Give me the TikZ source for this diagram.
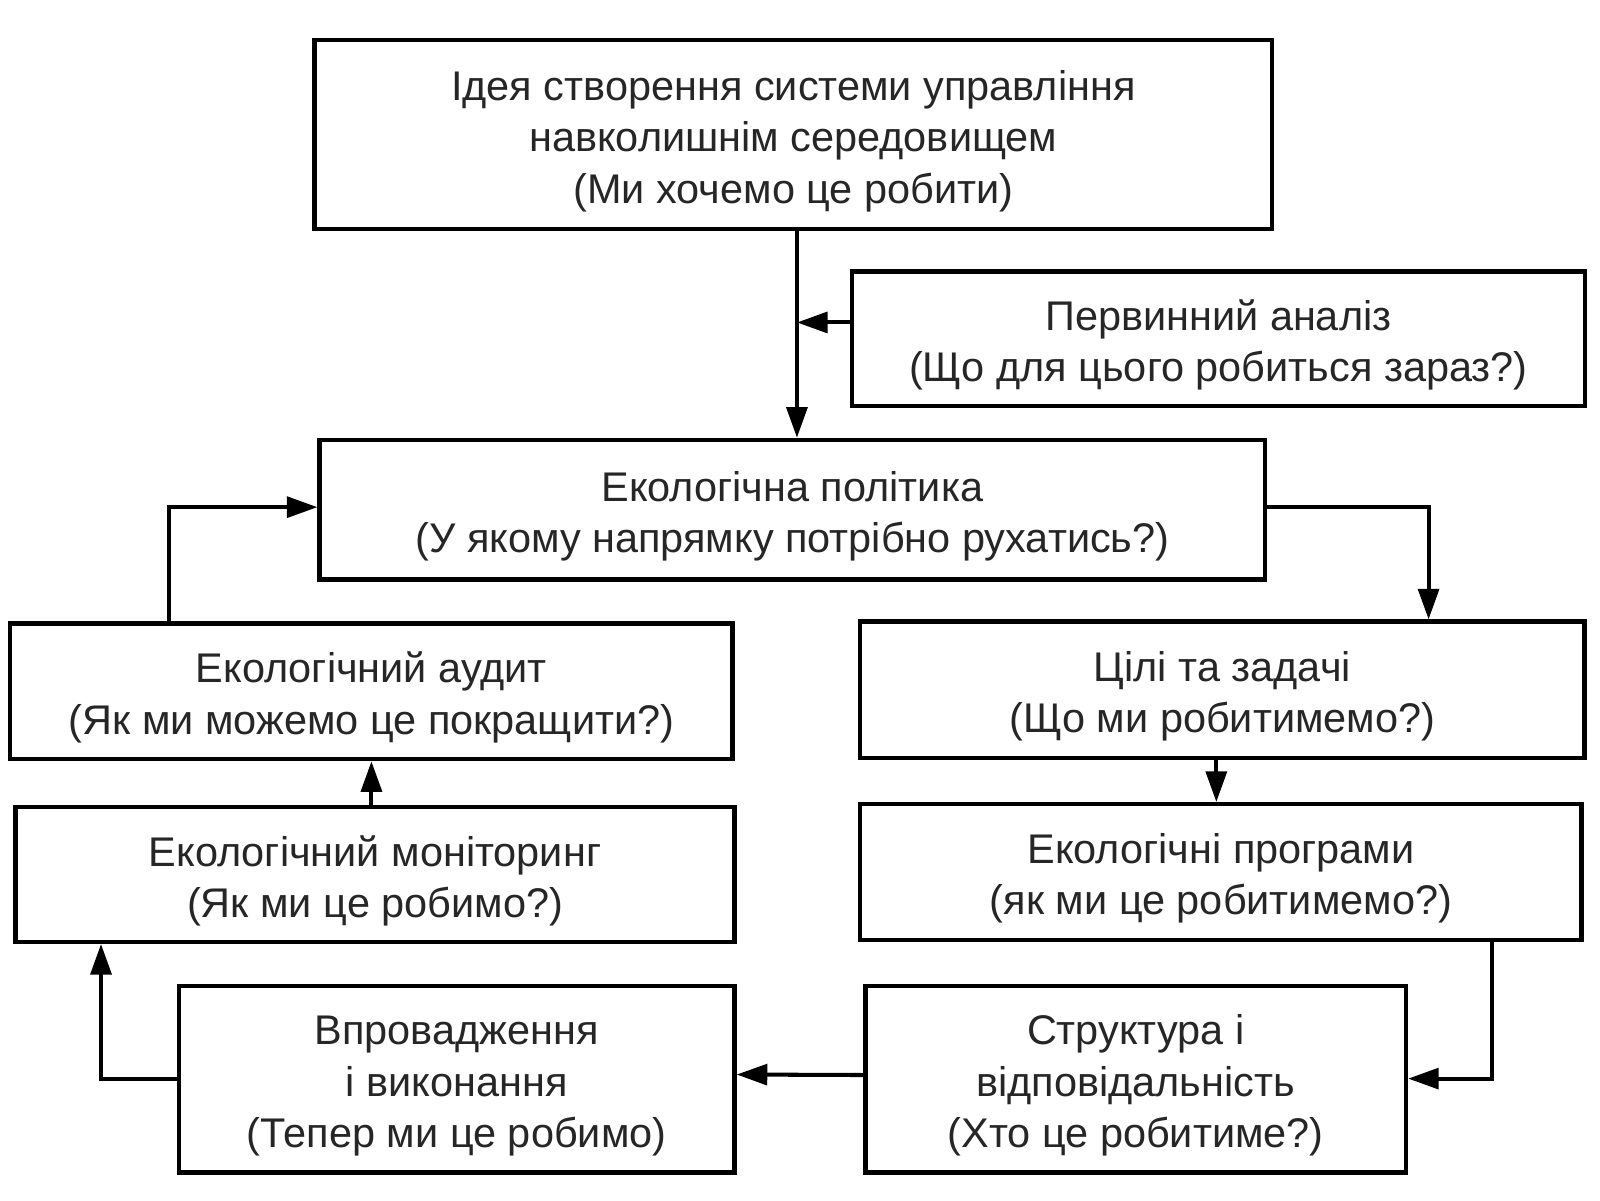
\documentclass[tikz,border=0pt]{standalone}
\usepackage{fontspec}
\setmainfont{Liberation Sans}
\usetikzlibrary{arrows.meta,calc}
\newcommand\topstrut{\rule{0pt}{12.2pt}}
\begin{document}
\begin{tikzpicture}[x=0.010204cm,y=-0.010204cm,
  box/.style={draw=black,line width=1.2pt,rectangle,inner sep=0pt,align=center,
    font=\fontsize{11.8}{14.6}\selectfont,text=black!85},
  arr/.style={line width=1.15pt,-{Triangle[length=8.7pt,width=5.9pt]}}]
\useasboundingbox (0,0) rectangle (1568,1176);
\fill[white] (0,0) rectangle (1568,1176);
\node[box,minimum width=9.582cm,minimum height=1.888cm] (top) at (777.5,132)
  {\topstrut Ідея створення системи управління\\навколишнім середовищем\\(Ми хочемо це робити)};
\node[box,minimum width=7.327cm,minimum height=1.347cm] (pa) at (1194,332)
  {\topstrut Первинний аналіз\\(Що для цього робиться зараз?)};
\node[box,minimum width=9.459cm,minimum height=1.398cm] (pol) at (776.5,499.5)
  {\topstrut Екологічна політика\\(У якому напрямку потрібно рухатись?)};
\node[box,minimum width=7.224cm,minimum height=1.357cm] (aud) at (364,677.5)
  {\topstrut Екологічний аудит\\(Як ми можемо це покращити?)};
\node[box,minimum width=7.245cm,minimum height=1.367cm] (cz) at (1198,676)
  {\topstrut Цілі та задачі\\(Що ми робитимемо?)};
\node[box,minimum width=7.194cm,minimum height=1.347cm] (mon) at (367.5,857)
  {\topstrut Екологічний моніторинг\\(Як ми це робимо?)};
\node[box,minimum width=7.214cm,minimum height=1.357cm] (pr) at (1196.5,854.5)
  {\topstrut Екологічні програми\\(як ми це робитимемо?)};
\node[box,minimum width=5.561cm,minimum height=1.867cm] (vp) at (447.5,1057.5)
  {\topstrut Впровадження\\і виконання\\(Тепер ми це робимо)};
\node[box,minimum width=5.408cm,minimum height=1.867cm] (st) at (1113,1057.5)
  {\topstrut Структура і\\відповідальність\\(Хто це робитиме?)};
\coordinate (v1) at (781,316);
\coordinate (v2) at (1400,497);
\coordinate (v3) at (1192,0);
\coordinate (v4) at (1462,1057);
\coordinate (v5) at (99,1057);
\coordinate (v6) at (364,0);
\coordinate (v7) at (166,497);
\draw[arr] (top.south -| v1) -- (pol.north -| v1);
\draw[arr] (pa.west |- v1) -- (v1);
\draw[arr] (pol.east |- v2) -- (v2) -- (cz.north -| v2);
\draw[arr] (cz.south -| v3) -- (pr.north -| v3);
\draw[arr] (pr.south -| v4) -- (v4) -- (st.east |- v4);
\draw[arr] (st.west) ++(0,-4) -- (vp.east |- 0,1053);
\draw[arr] (vp.west |- v5) -- (v5) -- (mon.south -| v5);
\draw[arr] (mon.north -| v6) -- (aud.south -| v6);
\draw[arr] (aud.north -| v7) -- (v7) -- (pol.west |- v7);
\end{tikzpicture}
\end{document}
